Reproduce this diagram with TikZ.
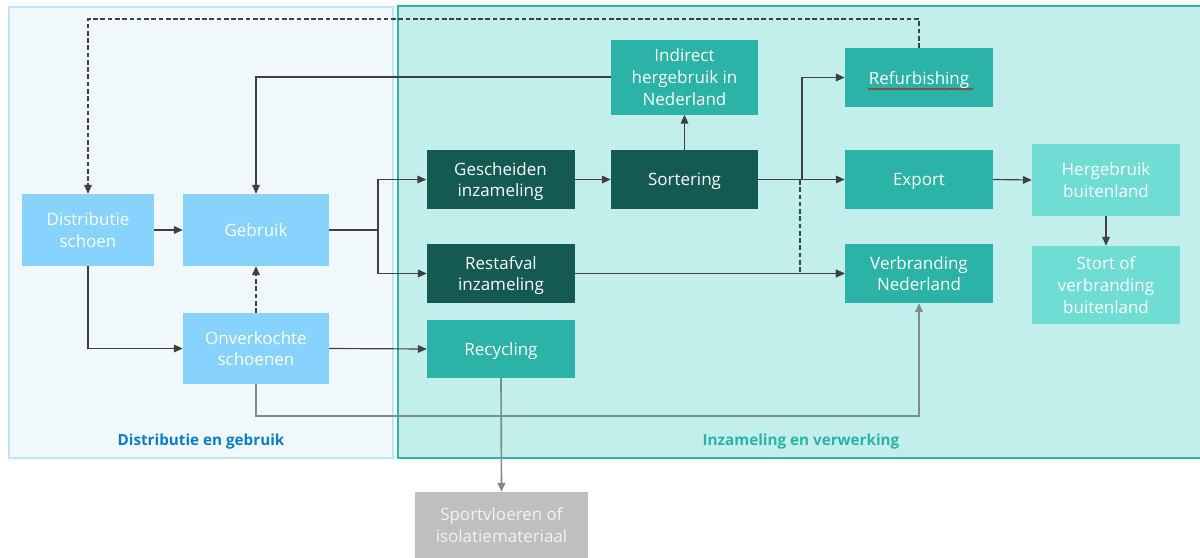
\documentclass[tikz,border=0pt]{standalone}
\usepackage{fontspec}
\setmainfont{Open Sans}
\usetikzlibrary{arrows.meta,decorations.pathmorphing}
\definecolor{lblue}{HTML}{87D3FD}
\definecolor{dteal}{HTML}{145A52}
\definecolor{mteal}{HTML}{2AB3A6}
\definecolor{ltealbox}{HTML}{70DDD3}
\definecolor{greybox}{HTML}{BFBFBF}
\definecolor{leftfill}{HTML}{F2F9FD}
\definecolor{leftline}{HTML}{BFE4F5}
\definecolor{rightfill}{HTML}{C2EFEB}
\definecolor{rightline}{HTML}{2DB5A8}
\definecolor{dark}{HTML}{404040}
\definecolor{greyline}{HTML}{7F8C8B}
\definecolor{lblblue}{HTML}{0A7CC9}
\begin{document}
\begin{tikzpicture}[x=0.03cm,y=-0.03cm,
  box/.style={inner sep=0pt, align=center, text=white, text depth=0pt,
    font=\fontsize{14.5}{18.7}\selectfont},
  ln/.style={draw=dark, line width=1pt, -{Triangle[length=7.5pt,width=6.5pt]}},
  gln/.style={draw=greyline, line width=1.4pt, -{Triangle[length=7.5pt,width=6.5pt]}},
  dsh/.style={dash pattern=on 4pt off 2.2pt},
  plain/.style={draw=dark, line width=1pt},
  lbl/.style={font=\bfseries\fontsize{13}{15}\selectfont}
]
\useasboundingbox (0,0) rectangle (1200,557);
% panels
\fill[white] (0,0) rectangle (1200,557);
\draw[fill=leftfill, draw=leftline, line width=0.9pt] (9,7) rectangle (393,458);
\draw[fill=rightfill, draw=rightline, line width=1.8pt] (398,6) rectangle (1210,458);
\node[lbl, text=lblblue] (lab1) at (201,442) {Distributie en gebruik};
\node[lbl, text=mteal] (lab2) at (801,442) {Inzameling en verwerking};
% nodes
\node[box, fill=lblue, minimum width=3.96cm, minimum height=2.16cm] (dist) at (88,230) {Distributie\\schoen};
\node[box, fill=lblue, minimum width=4.38cm, minimum height=2.16cm] (geb) at (256,230) {Gebruik};
\node[box, fill=lblue, minimum width=4.38cm, minimum height=2.13cm] (onv) at (256,348.5) {Onverkochte\\schoenen};
\node[box, fill=dteal, minimum width=4.44cm, minimum height=1.77cm] (gesch) at (500.5,179.5) {Gescheiden\\inzameling};
\node[box, fill=dteal, minimum width=4.44cm, minimum height=1.77cm] (rest) at (501,273.5) {Restafval\\inzameling};
\node[box, fill=mteal, minimum width=4.44cm, minimum height=1.74cm] (rec) at (501,349) {Recycling};
\node[box, fill=mteal, minimum width=4.41cm, minimum height=2.25cm] (ind) at (684.5,77) {Indirect\\hergebruik in\\Nederland};
\node[box, fill=dteal, minimum width=4.41cm, minimum height=1.77cm] (sort) at (684.5,179.5) {Sortering};
\node[box, fill=mteal, minimum width=4.44cm, minimum height=1.77cm] (ref) at (919,77.5) {Refurbishing};
\node[box, fill=mteal, minimum width=4.44cm, minimum height=1.77cm] (exp) at (919,179.5) {Export};
\node[box, fill=mteal, minimum width=4.44cm, minimum height=1.77cm] (verb) at (919,273.5) {Verbranding\\Nederland};
\node[box, fill=ltealbox, minimum width=4.44cm, minimum height=2.16cm] (herg) at (1106,180) {Hergebruik\\buitenland};
\node[box, fill=ltealbox, minimum width=4.44cm, minimum height=2.34cm] (stort) at (1106,285) {Stort of\\verbranding\\buitenland};
\node[box, fill=greybox, text=white!95!black, minimum width=5.19cm, minimum height=1.98cm] (sport) at (501.5,525) {Sportvloeren of\\isolatiemateriaal};
% spell-check underline
\draw[red!80!black, line width=0.5pt, decorate, decoration={snake, amplitude=0.6pt, segment length=2.2pt}] (868,89) -- (973,89);
% connectors
\coordinate (j1) at (378,230);
\coordinate (b1) at (256,416);
\coordinate (j2) at (802,180);
\coordinate (j3) at (800,180);
\coordinate (t1) at (920,19);
\draw[ln] (dist.east) -- (geb.west);
\draw[ln] (dist.south) |- (onv.west);
\draw[ln, dsh] (onv.north) -- (geb.south);
\draw[plain] (geb.east) -- (j1);
\draw[ln] (j1) |- (gesch.west);
\draw[ln] (j1) |- (rest.west);
\draw[ln] (onv.east) -- (rec.west);
\draw[gln] (onv.south) -- (b1) -| (verb.south);
\draw[ln] (gesch.east) -- (sort.west);
\draw[ln] (sort.north) -- (ind.south);
\draw[ln] (ind.west) -| (geb.north);
\draw[ln] (sort.east) -- (exp.west);
\draw[ln] (j2) |- (ref.west);
\draw[ln, dsh] (j3) |- (verb.west);
\draw[ln] (rest.east) -- (verb.west);
\draw[ln] (exp.east) -- (herg.west);
\draw[ln] (herg.south) -- (stort.north);
\draw[ln, dsh] (ref.north) -- (ref.north |- t1) -| (dist.north);
\draw[gln] (rec.south) -- (sport.north);
\end{tikzpicture}
\end{document}
